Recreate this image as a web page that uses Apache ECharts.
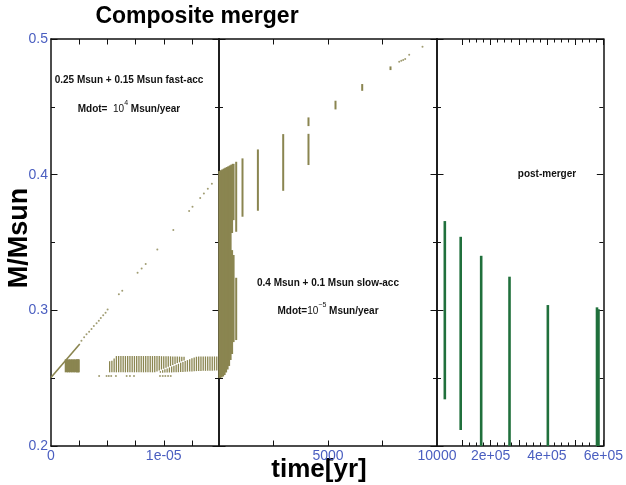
<!DOCTYPE html>
<html>
<head>
<meta charset="utf-8">
<script src="https://cdn.jsdelivr.net/npm/echarts@6/dist/echarts.min.js"></script>
<style>
  html, body { margin: 0; padding: 0; background: #fff; }
  #chart { width: 626px; height: 485px; }
</style>
</head>
<body>
<div id="chart"></div>
<script>
// ---- Mass axis -------------------------------------------------------------
const massMin = 0.2;
const massMax = 0.5;
const massStep = 0.1;

// ---- Panel 1: fast accretion, time in units of 1e-6 yr ---------------------
const p1Max = 14.9;
const p1TickValues = [2.5, 5, 7.5, 10, 12.5];
const p1LabelValues = [0, 10];
const p1LabelTexts = ['0', '1e-05'];

// dense start of the accretion track [t, M]
const p1Track = [[0, 0.2505], [2.55, 0.2752]];
// individual samples along the track [t, M]
const p1TrackDots = [
  [2.70, 0.2776], [2.94, 0.2801], [3.15, 0.2823], [3.38, 0.2842], [3.59, 0.2862],
  [3.80, 0.2884], [4.04, 0.2904], [4.24, 0.2923], [4.42, 0.2943], [4.63, 0.2963],
  [4.84, 0.2982], [5.02, 0.3007], [6.02, 0.3118], [6.32, 0.3144], [7.68, 0.3277],
  [8.04, 0.3309], [8.40, 0.3341], [9.43, 0.3448], [10.85, 0.3592], [12.25, 0.3732],
  [12.55, 0.3763], [13.23, 0.3828], [13.56, 0.3862], [13.91, 0.3896], [14.27, 0.3933]
];
// row of isolated samples near the base [t, M]
const p1BaseDots = [
  [4.27, 0.2516], [4.93, 0.2516], [5.13, 0.2516], [5.34, 0.2516], [5.76, 0.2516],
  [6.71, 0.2516], [7.00, 0.2516], [7.36, 0.2516], [9.67, 0.2516], [9.91, 0.2516],
  [10.14, 0.2516], [10.38, 0.2516], [10.62, 0.2516]
];
// compact cluster [t, Mlow, Mhigh]
const p1Cluster = [
  [1.35, 0.2543, 0.2639], [1.55, 0.2543, 0.2639], [1.75, 0.2543, 0.2639],
  [1.95, 0.2543, 0.2639], [2.15, 0.2543, 0.2639], [2.35, 0.2543, 0.2639],
  [2.42, 0.2543, 0.2639]
];
// upper band of oscillation ranges [t, Mlow, Mhigh]
const p1UpperBand = [
  [5.2, 0.2543, 0.2625], [5.4, 0.2543, 0.2628], [5.6, 0.2543, 0.2645],
  [5.8, 0.2543, 0.2663], [6.0, 0.2543, 0.2663], [6.2, 0.2543, 0.2663],
  [6.4, 0.2543, 0.2663], [6.6, 0.2543, 0.2663], [6.8, 0.2543, 0.2663],
  [7.0, 0.2543, 0.2663], [7.2, 0.2543, 0.2663], [7.4, 0.2543, 0.2663],
  [7.6, 0.2543, 0.2663], [7.8, 0.2543, 0.2663], [8.0, 0.2543, 0.2663],
  [8.2, 0.2543, 0.2663], [8.4, 0.2543, 0.2663], [8.6, 0.2543, 0.2663],
  [8.8, 0.2543, 0.2663], [9.0, 0.2543, 0.2663], [9.2, 0.2543, 0.2663],
  [9.4, 0.2550, 0.2663], [9.6, 0.2557, 0.2663], [9.8, 0.2564, 0.2662],
  [10.0, 0.2570, 0.2662], [10.2, 0.2577, 0.2662], [10.4, 0.2584, 0.2661],
  [10.6, 0.2590, 0.2661], [10.8, 0.2597, 0.2660], [11.0, 0.2604, 0.2660],
  [11.2, 0.2611, 0.2659], [11.4, 0.2617, 0.2659], [11.6, 0.2624, 0.2658],
  [11.8, 0.2631, 0.2658]
];
// lower band of oscillation ranges [t, Mlow, Mhigh]
const p1LowerBand = [
  [9.7, 0.2540, 0.2552], [9.9, 0.2540, 0.2559], [10.1, 0.2541, 0.2565],
  [10.3, 0.2541, 0.2572], [10.5, 0.2542, 0.2579], [10.7, 0.2542, 0.2586],
  [10.9, 0.2543, 0.2592], [11.1, 0.2543, 0.2599], [11.3, 0.2544, 0.2606],
  [11.5, 0.2545, 0.2613], [11.7, 0.2546, 0.2619], [11.9, 0.2547, 0.2626],
  [12.1, 0.2548, 0.2633], [12.3, 0.2549, 0.2640], [12.5, 0.2550, 0.2646],
  [12.7, 0.2551, 0.2653], [12.9, 0.2552, 0.2658], [13.1, 0.2553, 0.2660],
  [13.3, 0.2553, 0.2660], [13.5, 0.2554, 0.2660], [13.7, 0.2554, 0.2660],
  [13.9, 0.2555, 0.2660], [14.1, 0.2555, 0.2660], [14.3, 0.2555, 0.2660],
  [14.5, 0.2556, 0.2660], [14.7, 0.2556, 0.2660]
];

// ---- Panel 2: slow accretion, time in yr -----------------------------------
const p2Max = 10000;
const p2TickValues = [2500, 5000, 7500];
const p2LabelValues = [5000, 10000];
const p2LabelTexts = ['5000', '10000'];

// early dense ranges [t, Mlow, Mhigh]
const p2Block = [
  [32, 0.2501, 0.4027], [101, 0.2505, 0.4033], [170, 0.2512, 0.4039],
  [239, 0.2523, 0.4045], [307, 0.2542, 0.4051], [376, 0.2564, 0.4056],
  [445, 0.2590, 0.4062], [514, 0.2634, 0.4068],
  [583, 0.3570, 0.4074], [583, 0.2678, 0.3444],
  [651, 0.3665, 0.4080], [651, 0.2766, 0.3408]
];
// edge of the early dense phase [t, Mlow, Mhigh]
const p2BlockEdge = [
  [789, 0.3579, 0.4095], [789, 0.2781, 0.3240]
];
// later ranges [t, Mlow, Mhigh]
const p2Ranges = [
  [1078, 0.3690, 0.4120], [1784, 0.3734, 0.4186], [2945, 0.3881, 0.4299],
  [4105, 0.4071, 0.4301], [4105, 0.4358, 0.4422], [5344, 0.4481, 0.4545],
  [6569, 0.4618, 0.4668], [7867, 0.4771, 0.4798]
];
// last samples [t, M]
const p2Dots = [
  [8266, 0.4832], [8360, 0.4839], [8450, 0.4845], [8541, 0.4852],
  [8724, 0.4884], [9335, 0.4943]
];

// ---- Panel 3: post-merger, time in yr --------------------------------------
const p3Min = 10000;
const p3Max = 600000;
const p3MajorTicks = [100000, 200000, 300000, 400000, 500000, 600000];
const p3MinorTicks = [125000, 150000, 175000, 225000, 250000, 275000, 325000, 350000,
  375000, 425000, 450000, 475000, 525000, 550000, 575000];
const p3LabelValues = [200000, 400000, 600000];
const p3LabelTexts = ['2e+05', '4e+05', '6e+05'];
// post-merger ranges [t, Mlow, Mhigh]
const p3Ranges = [
  [37760, 0.2344, 0.3658], [94000, 0.2118, 0.3542], [166700, 0.2000, 0.3402],
  [267200, 0.2000, 0.3248], [403200, 0.2000, 0.3039], [577500, 0.2000, 0.3022],
  [582800, 0.2000, 0.3008]
];

// ---- Styling ---------------------------------------------------------------
const FONT = '"Liberation Sans", Arial, Helvetica, sans-serif';
const OLIVE = '#8a8550';
const GREEN = '#20703c';
const BLUE = '#4a5ec0';
const INK = '#111';

const TOP = 39, HEIGHT = 407;
const grids = [
  { left: 51, top: TOP, width: 168, height: HEIGHT },
  { left: 219, top: TOP, width: 218, height: HEIGHT },
  { left: 437, top: TOP, width: 167, height: HEIGHT }
];

function lookup(values, texts) {
  return v => {
    for (let i = 0; i < values.length; i++) {
      if (Math.abs(v - values[i]) < 1e-9 * Math.max(1, Math.abs(values[i]))) return texts[i];
    }
    return '';
  };
}

function xAxis(gridIndex, min, max, position, ticks, tickLen, labels, showLine) {
  return {
    type: 'value', gridIndex, min, max, position,
    axisLine: { show: showLine, onZero: false, lineStyle: { color: INK, width: 1.5 } },
    splitLine: { show: false },
    axisTick: { show: true, inside: true, length: tickLen, customValues: ticks,
      lineStyle: { color: INK, width: 1 } },
    axisLabel: labels ? {
      show: true, customValues: labels.values, formatter: lookup(labels.values, labels.texts),
      color: BLUE, fontSize: 14, fontFamily: FONT, margin: 3
    } : { show: false }
  };
}

function yAxis(gridIndex, position, showLabels) {
  return {
    type: 'value', gridIndex, position, min: massMin, max: massMax, interval: massStep,
    axisLine: { show: true, onZero: false, lineStyle: { color: INK, width: 1.5 } },
    splitLine: { show: false },
    axisTick: { show: true, inside: true, length: 6.5, lineStyle: { color: INK, width: 1 } },
    minorTick: { show: true, splitNumber: 2, length: 4, lineStyle: { color: INK, width: 1 } },
    axisLabel: showLabels ? {
      show: true, formatter: v => v.toFixed(1), color: BLUE, fontSize: 14,
      fontFamily: FONT, margin: 3
    } : { show: false }
  };
}

const xAxes = [
  // panel 1
  xAxis(0, 0, p1Max, 'bottom', p1TickValues, 5.5, { values: p1LabelValues, texts: p1LabelTexts }, true),
  xAxis(0, 0, p1Max, 'top', p1TickValues, 5.5, null, true),
  // panel 2
  xAxis(1, 0, p2Max, 'bottom', p2TickValues, 5.5, { values: p2LabelValues, texts: p2LabelTexts }, true),
  xAxis(1, 0, p2Max, 'top', p2TickValues, 5.5, null, true),
  // panel 3 (major + minor)
  xAxis(2, p3Min, p3Max, 'bottom', p3MajorTicks, 6, { values: p3LabelValues, texts: p3LabelTexts }, true),
  xAxis(2, p3Min, p3Max, 'top', p3MajorTicks, 6, null, true),
  xAxis(2, p3Min, p3Max, 'bottom', p3MinorTicks, 3.5, null, false),
  xAxis(2, p3Min, p3Max, 'top', p3MinorTicks, 3.5, null, false)
];
const yAxes = [
  yAxis(0, 'left', true), yAxis(0, 'right', false),
  yAxis(1, 'left', false), yAxis(1, 'right', false),
  yAxis(2, 'left', false), yAxis(2, 'right', false)
];

// vertical mass ranges drawn through the axis scales
function rangeSeries(data, xi, yi, color, width) {
  return {
    type: 'custom', xAxisIndex: xi, yAxisIndex: yi, data,
    encode: { x: 0, y: [1, 2] }, silent: true,
    renderItem(params, api) {
      const a = api.coord([api.value(0), api.value(1)]);
      const b = api.coord([api.value(0), api.value(2)]);
      return {
        type: 'line',
        shape: { x1: a[0], y1: a[1], x2: b[0], y2: b[1] },
        style: { stroke: color, lineWidth: width, lineCap: 'butt' }
      };
    }
  };
}

function dotSeries(data, xi, yi, color, size) {
  return {
    type: 'scatter', xAxisIndex: xi, yAxisIndex: yi, data,
    symbol: 'circle', symbolSize: size, silent: true,
    itemStyle: { color }
  };
}

const series = [
  rangeSeries(p1Cluster, 0, 0, OLIVE, 3),
  rangeSeries(p1UpperBand, 0, 0, OLIVE, 1.3),
  rangeSeries(p1LowerBand, 0, 0, OLIVE, 1.3),
  {
    type: 'line', xAxisIndex: 0, yAxisIndex: 0, data: p1Track, silent: true,
    symbol: 'none', lineStyle: { color: OLIVE, width: 1.6 }
  },
  dotSeries(p1TrackDots, 0, 0, OLIVE, 2),
  dotSeries(p1BaseDots, 0, 0, OLIVE, 2),
  rangeSeries(p2Block, 2, 2, OLIVE, 2.8),
  rangeSeries(p2BlockEdge, 2, 2, OLIVE, 2),
  rangeSeries(p2Ranges, 2, 2, OLIVE, 2),
  dotSeries(p2Dots, 2, 2, OLIVE, 2),
  rangeSeries(p3Ranges, 4, 4, GREEN, 2.6)
];

const bold10 = { fontFamily: FONT, fontWeight: 'bold', fontSize: 10, lineHeight: 14, fill: INK };
const graphic = [
  { type: 'text', x: 197, y: 17, style: { text: 'Composite merger', font: 'bold 23px ' + FONT,
      align: 'center', verticalAlign: 'middle', fill: '#000' } },
  { type: 'text', x: 319, y: 470, style: { text: 'time[yr]', font: 'bold 26px ' + FONT,
      align: 'center', verticalAlign: 'middle', fill: '#000' } },
  { type: 'text', x: 20, y: 238, rotation: Math.PI / 2, style: { text: 'M/Msun',
      font: 'bold 27px ' + FONT, align: 'center', verticalAlign: 'middle', fill: '#000' } },
  { type: 'text', x: 129, y: 80, style: { text: '0.25 Msun + 0.15 Msun fast-acc',
      font: 'bold 10px ' + FONT, align: 'center', verticalAlign: 'middle', fill: INK } },
  { type: 'text', x: 129, y: 107, style: {
      text: '{a|Mdot=  }{b|10}{s|4}{a| Msun/year}',
      align: 'center', verticalAlign: 'middle',
      rich: {
        a: Object.assign({}, bold10, { verticalAlign: 'bottom' }),
        b: { fontFamily: FONT, fontSize: 10, lineHeight: 14, verticalAlign: 'bottom', fill: INK },
        s: { fontFamily: FONT, fontSize: 7, lineHeight: 8, verticalAlign: 'top', fill: INK }
      } } },
  { type: 'text', x: 328, y: 283, style: { text: '0.4 Msun + 0.1 Msun slow-acc',
      font: 'bold 10px ' + FONT, align: 'center', verticalAlign: 'middle', fill: INK } },
  { type: 'text', x: 328, y: 309, style: {
      text: '{a|Mdot=}{b|10}{s|\u22125}{a| Msun/year}',
      align: 'center', verticalAlign: 'middle',
      rich: {
        a: Object.assign({}, bold10, { verticalAlign: 'bottom' }),
        b: { fontFamily: FONT, fontSize: 10, lineHeight: 14, verticalAlign: 'bottom', fill: INK },
        s: { fontFamily: FONT, fontSize: 7, lineHeight: 8, verticalAlign: 'top', fill: INK }
      } } },
  { type: 'text', x: 547, y: 174, style: { text: 'post-merger',
      font: 'bold 10px ' + FONT, align: 'center', verticalAlign: 'middle', fill: INK } }
];

const chart = echarts.init(document.getElementById('chart'), null, { renderer: 'canvas' });
chart.setOption({
  animation: false,
  backgroundColor: '#fff',
  grid: grids,
  xAxis: xAxes,
  yAxis: yAxes,
  series,
  graphic
});
</script>
</body>
</html>
